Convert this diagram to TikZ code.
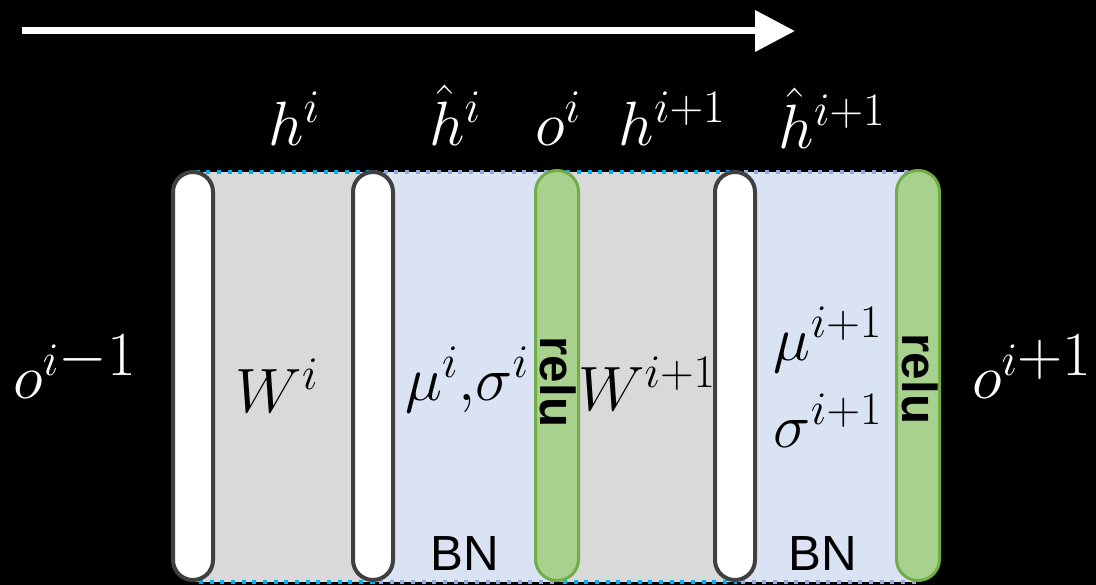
\RequirePackage{fix-cm}
\documentclass[tikz,border=0pt]{standalone}
\usepackage{fontspec}
\setsansfont{Liberation Sans}
\usetikzlibrary{arrows.meta}
\DeclareMathSizes{47}{47}{35}{26}
\definecolor{wgray}{HTML}{D9D9D9}
\definecolor{bnblue}{HTML}{DAE3F3}
\definecolor{pillgreen}{HTML}{A9D18E}
\definecolor{pillgreenline}{HTML}{70AD47}
\definecolor{pillgray}{HTML}{404040}
\definecolor{dotcyan}{HTML}{00B0F0}
\definecolor{dotblue}{HTML}{8FAADC}
\begin{document}
\begin{tikzpicture}[x=0.75pt,y=-0.75pt,
  graybox/.style={fill=wgray, draw=dotcyan, line width=2.8pt, dash pattern=on 3pt off 5pt},
  bluebox/.style={fill=bnblue, draw=dotblue, line width=2.8pt, dash pattern=on 3pt off 5pt},
  whitepill/.style={draw=pillgray, fill=white, line width=3pt, rounded corners=15pt,
    minimum width=30pt, minimum height=306pt, inner sep=0pt},
  greenpill/.style={draw=pillgreenline, fill=pillgreen, line width=2.25pt, rounded corners=16pt,
    minimum width=32.25pt, minimum height=307.5pt, inner sep=0pt},
  toplbl/.style={text=white, font=\fontsize{47}{56}\selectfont, anchor=base, inner sep=0pt},
  inlbl/.style={text=black, font=\fontsize{47}{56}\selectfont, anchor=base, inner sep=0pt},
  bnlbl/.style={text=black, font=\sffamily\fontsize{37}{44}\selectfont, anchor=base, inner sep=0pt},
  relulbl/.style={text=black, font=\sffamily\bfseries\fontsize{37}{44}\selectfont, rotate=-90, inner sep=0pt},
  flowarrow/.style={white, line width=5.25pt, -{Triangle[length=30pt,width=30pt]}}
]
\fill[black] (0,0) rectangle (1096,585);
\useasboundingbox (0,0) rectangle (1096,585);

% direction arrow
\coordinate (as) at (22,31);
\coordinate (ae) at (795,31);
\draw[flowarrow] (as) -- (ae);

% layer regions
\draw[graybox] (193,172) rectangle (373,582);
\draw[bluebox] (373,172) rectangle (557,582);
\draw[graybox] (557,172) rectangle (735,582);
\draw[bluebox] (735,172) rectangle (918,582);

% pills
\node[whitepill] (p1) at (193,376) {};
\node[whitepill] (p2) at (373,376) {};
\node[greenpill] (g1) at (557,375.5) {};
\node[whitepill] (p3) at (735,376) {};
\node[greenpill] (g2) at (918,375.5) {};

% top labels
\node[toplbl] (lhi) at (294,145) {$h^{i}$};
\node[toplbl] (lhhi) at (455,145) {$\hat{h}^{i}$};
\node[toplbl] (loi) at (558,145) {$o^{i}$};
\node[toplbl] (lhi1) at (672,145) {$h^{i+1}$};
\node[toplbl] (lhhi1) at (832,148) {$\hat{h}^{i+1}$};

% side labels
\node[toplbl] (lin) at (75,398) {$o^{i{\textstyle -1}}$};
\node[toplbl] (lout) at (1032,398) {$o^{i{\textstyle +1}}$};

% inner labels
\node[inlbl] (w1) at (277,412) {$W^{i}$};
\node[inlbl] (ms1) at (467,400) {$\mu^{i}{,}\sigma^{i}$};
\node[inlbl] (w2) at (647,410) {$W^{i+1}$};
\node[inlbl] (m2) at (828,360) {$\mu^{i+1}$};
\node[inlbl] (s2) at (828,447) {$\sigma^{i+1}$};

\node[bnlbl] (bn1) at (465,570) {BN};
\node[bnlbl] (bn2) at (823,570) {BN};

\node[relulbl] (r1) at (558,382) {relu};
\node[relulbl] (r2) at (920,379) {relu};
\end{tikzpicture}
\end{document}
